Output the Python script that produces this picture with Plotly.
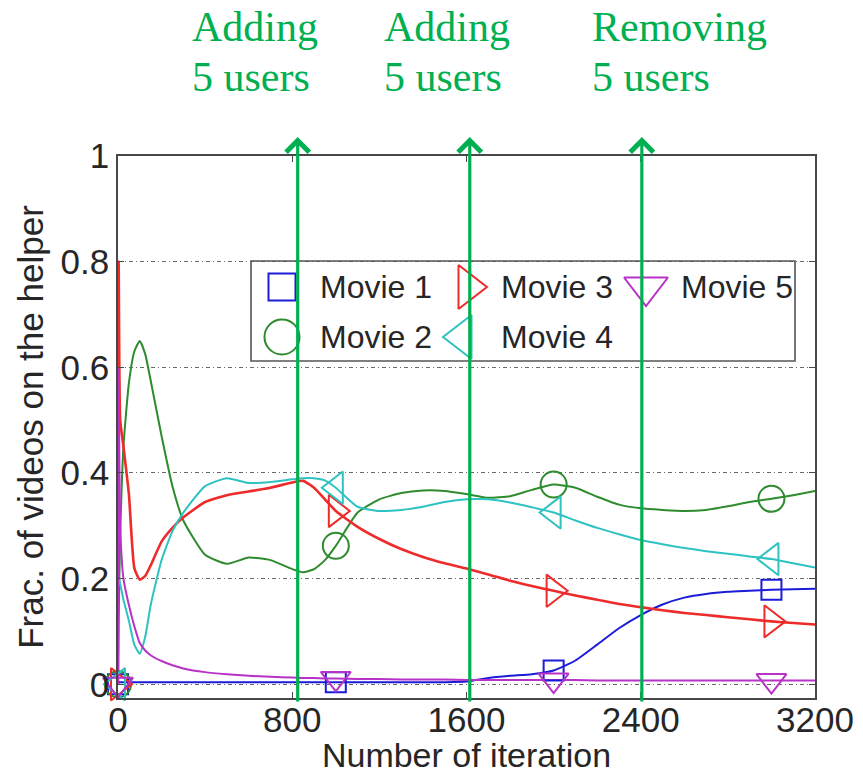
import plotly.graph_objects as go

# ---- data -------------------------------------------------------------
iterations = [0, 3, 10, 25, 50, 75, 100, 125, 150, 200, 250, 300, 400, 500,
              600, 700, 800, 850, 900, 950, 1000, 1100, 1200, 1300, 1400,
              1500, 1600, 1700, 1800, 1900, 2000, 2100, 2200, 2300, 2400,
              2500, 2600, 2700, 2800, 2900, 3000, 3100, 3200]

movie1 = [0.0, 0.004, 0.004, 0.004, 0.004, 0.004, 0.004, 0.004, 0.004, 0.004,
          0.004, 0.004, 0.004, 0.004, 0.004, 0.004, 0.004, 0.004, 0.004, 0.004,
          0.004, 0.004, 0.004, 0.004, 0.004, 0.004, 0.005, 0.012, 0.016, 0.019,
          0.026, 0.045, 0.075, 0.106, 0.131, 0.151, 0.164, 0.171, 0.175, 0.177,
          0.179, 0.180, 0.181]

movie2 = [0.0, 0.12, 0.28, 0.45, 0.57, 0.63, 0.65, 0.625, 0.575, 0.47,
          0.375, 0.31, 0.245, 0.228, 0.24, 0.235, 0.218, 0.212, 0.218, 0.235,
          0.262, 0.325, 0.35, 0.362, 0.367, 0.366, 0.36, 0.353, 0.356, 0.368,
          0.378, 0.372, 0.355, 0.34, 0.333, 0.33, 0.328, 0.33, 0.337, 0.345,
          0.351, 0.358, 0.366]

movie3 = [0.0, 0.8, 0.5, 0.45, 0.36, 0.22, 0.198, 0.205, 0.225, 0.27,
          0.296, 0.316, 0.345, 0.358, 0.365, 0.372, 0.382, 0.385, 0.372, 0.35,
          0.328, 0.298, 0.275, 0.256, 0.241, 0.229, 0.219, 0.208, 0.196, 0.186,
          0.177, 0.168, 0.16, 0.152, 0.146, 0.14, 0.135, 0.131, 0.127, 0.123,
          0.119, 0.116, 0.113]

movie4 = [0.0, 0.2, 0.19, 0.16, 0.12, 0.075, 0.058, 0.09, 0.15, 0.235,
          0.29, 0.325, 0.375, 0.39, 0.381, 0.383, 0.388, 0.39, 0.39, 0.386,
          0.372, 0.336, 0.328, 0.33, 0.336, 0.345, 0.35, 0.35, 0.344, 0.335,
          0.325, 0.31, 0.296, 0.284, 0.273, 0.265, 0.258, 0.252, 0.247, 0.242,
          0.237, 0.229, 0.221]

movie5 = [0.0, 0.6, 0.3, 0.2, 0.15, 0.11, 0.078, 0.064, 0.055, 0.044,
          0.036, 0.03, 0.023, 0.019, 0.016, 0.014, 0.013, 0.012, 0.012, 0.011,
          0.011, 0.01, 0.01, 0.009, 0.009, 0.009, 0.008, 0.008, 0.008, 0.008,
          0.008, 0.008, 0.007, 0.007, 0.007, 0.007, 0.007, 0.007, 0.007, 0.007,
          0.007, 0.007, 0.007]

series_names = ["Movie 1", "Movie 2", "Movie 3", "Movie 4", "Movie 5"]
series_values = [movie1, movie2, movie3, movie4, movie5]
marker_iterations = [0, 1000, 2000, 3000]

x_ticks = [0, 800, 1600, 2400, 3200]
y_ticks = [0, 0.2, 0.4, 0.6, 0.8, 1]
y_tick_labels = ["0", "0.2", "0.4", "0.6", "0.8", "1"]

event_iterations = [825, 1615, 2405]
event_lines1 = ["Adding", "Adding", "Removing"]
event_lines2 = ["5 users", "5 users", "5 users"]

# ---- styles -----------------------------------------------------------
colors = ["#1c1cd8", "#2e8b2e", "#ee2b2b", "#2ec2c2", "#b832c8"]
symbols = ["square-open", "circle-open", "triangle-right-open",
           "triangle-left-open", "triangle-down-open"]
plot_sizes = [20, 26, 28, 28, 26]
key_sizes = [27, 35, 38, 38, 38]
line_widths = [2, 2, 2.6, 2, 2]
GREEN = "#00b050"
SANS = "Liberation Sans, Arial, Helvetica, sans-serif"
SERIF = "Liberation Serif, Times New Roman, serif"
TEXT = "#262626"

# plot-area geometry in figure pixels (used to place page decorations)
PL, PR, PT, PB = 118, 815, 156, 698


def px_to_paper_x(px):
    return (px - PL) / (PR - PL)


def px_to_paper_y(py):
    return (PB - py) / (PB - PT)


fig = go.Figure()

# curves
for name, ys, col, lw in zip(series_names, series_values, colors, line_widths):
    fig.add_trace(go.Scatter(
        x=iterations, y=ys, mode="lines", name=name, showlegend=False,
        line=dict(color=col, width=lw, shape="spline", smoothing=0.5),
        hoverinfo="skip"))

# sparse markers along each curve
for name, ys, col, sym, sz in zip(series_names, series_values, colors,
                                  symbols, plot_sizes):
    mx = [x for x in iterations if x in marker_iterations]
    my = [y for x, y in zip(iterations, ys) if x in marker_iterations]
    fig.add_trace(go.Scatter(
        x=mx, y=my, mode="markers", name=name, showlegend=False,
        cliponaxis=False,
        marker=dict(symbol=sym, size=sz, color=col, line=dict(width=2))))

# ---- hand-laid legend (pixel-unit overlay axes) ------------------------
legend_box = (251, 795, 261, 361)
legend_slots = {  # name -> (key x, text x, row y)
    "Movie 1": (282, 318, 287),
    "Movie 3": (468, 499, 287),
    "Movie 5": (646, 679, 287),
    "Movie 2": (282, 318, 337),
    "Movie 4": (462, 499, 337),
}

for name, col, sym, sz in zip(series_names, colors, symbols, key_sizes):
    kx, tx, ry = legend_slots[name]
    fig.add_trace(go.Scatter(
        x=[kx], y=[ry], xaxis="x2", yaxis="y2", mode="markers",
        showlegend=False, cliponaxis=False, hoverinfo="skip",
        marker=dict(symbol=sym, size=sz, color=col, line=dict(width=2))))

shapes = [dict(type="rect", xref="paper", yref="paper",
               x0=px_to_paper_x(legend_box[0]), x1=px_to_paper_x(legend_box[1]),
               y0=px_to_paper_y(legend_box[3]), y1=px_to_paper_y(legend_box[2]),
               line=dict(color="#555555", width=1.6),
               fillcolor="rgba(0,0,0,0)", layer="above")]

annotations = []
for name in series_names:
    kx, tx, ry = legend_slots[name]
    annotations.append(dict(
        x=tx, y=ry, xref="x2", yref="y2", text=name, showarrow=False,
        xanchor="left", yanchor="middle",
        font=dict(family=SANS, size=32, color=TEXT)))

# ---- event arrows and captions ----------------------------------------
caption_left = [190, 382, 590]
ARROW_TIP, ARROW_TAIL = 137, 703
for ev, l1, l2, cx in zip(event_iterations, event_lines1, event_lines2,
                          caption_left):
    annotations.append(dict(
        x=ev, xref="x", y=px_to_paper_y(ARROW_TIP), yref="paper",
        ax=0, ay=ARROW_TAIL - ARROW_TIP, axref="pixel", ayref="pixel",
        text="", showarrow=True, arrowhead=4, arrowsize=1.4,
        arrowwidth=3.2, arrowcolor=GREEN, standoff=0, startstandoff=0))
    annotations.append(dict(
        x=px_to_paper_x(cx), y=px_to_paper_y(27), xref="paper", yref="paper",
        text=l1, showarrow=False, xanchor="left", yanchor="middle",
        font=dict(family=SERIF, size=42, color=GREEN)))
    annotations.append(dict(
        x=px_to_paper_x(cx), y=px_to_paper_y(77), xref="paper", yref="paper",
        text=l2, showarrow=False, xanchor="left", yanchor="middle",
        font=dict(family=SERIF, size=42, color=GREEN)))

axis_common = dict(
    showline=True, linecolor="#484848", linewidth=1.6, mirror="ticks",
    ticks="inside", ticklen=6, tickwidth=1.2, tickcolor="#484848",
    zeroline=False,
    tickfont=dict(family=SANS, size=35, color=TEXT),
)

fig.update_layout(
    width=863, height=774,
    margin=dict(l=PL, r=863 - PR, t=PT, b=774 - PB),
    paper_bgcolor="white", plot_bgcolor="white",
    showlegend=False,
    xaxis=dict(
        range=[0, 3200], tickvals=x_ticks, showgrid=False,
        ticklabelstandoff=-10,
        title=dict(text="Number of iteration", standoff=4,
                   font=dict(family=SANS, size=34, color=TEXT)),
        automargin=False, **axis_common),
    yaxis=dict(
        range=[-0.026, 1.0], tickvals=y_ticks, ticktext=y_tick_labels,
        showgrid=True, gridcolor="#6a6a6a", gridwidth=1,
        griddash="4px,3px,1px,3px",
        title=dict(text="Frac. of videos on the helper", standoff=6,
                   font=dict(family=SANS, size=35, color=TEXT)),
        automargin=False, **axis_common),
    xaxis2=dict(range=[PL, PR], overlaying="x", anchor="y2",
                visible=False, fixedrange=True),
    yaxis2=dict(range=[PB, PT], overlaying="y", anchor="x2",
                visible=False, fixedrange=True),
    shapes=shapes,
    annotations=annotations,
)

fig.write_html("out.html")
